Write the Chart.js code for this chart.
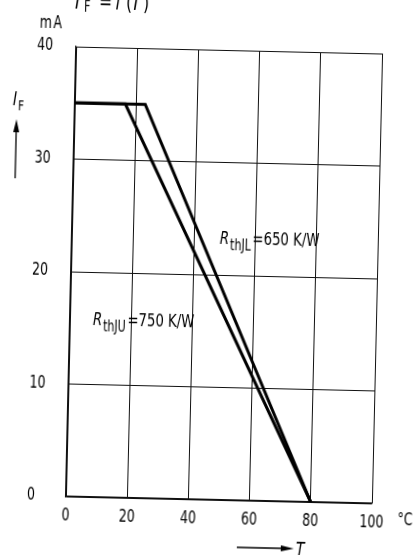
<!DOCTYPE html>
<html lang="de">
<head>
<meta charset="UTF-8">
<title>IF = f(T)</title>
<script src="https://cdn.jsdelivr.net/npm/chart.js@4"></script>
<style>
  html, body { margin: 0; padding: 0; background: #fff; }
  #wrap { position: relative; width: 414px; height: 555px; overflow: hidden; background: #fff; }
  /* the scan is slightly tilted; canvas a bit wider so the unit is not cut off */
  #chart { position: absolute; left: 0; top: 0; transform: rotate(1.3deg); transform-origin: 224px 275px; }
</style>
</head>
<body>
<div id="wrap"><canvas id="chart" width="440" height="560"></canvas></div>
<script>
// Kennlinien I_F = f(T)
const tempJL = [0, 23, 80];
const currentJL = [35, 35, 0];
const tempJU = [0, 16.5, 80];
const currentJU = [35, 35, 0];

const xTicks = [0, 20, 40, 60, 80, 100];
const yTicks = [0, 10, 20, 30, 40];

const labelJL = ['R', 'thJL', '=650 K/W'];
const labelJU = ['R', 'thJU', '=750 K/W'];
// where the labels sit, in data units (left edge, baseline)
const anchorJL = { x: 48.4, y: 22.75 };
const anchorJU = { x: 7.5, y: 15.3 };

const FONT = "'DejaVu Sans Condensed', 'Liberation Sans', sans-serif";
const NARROW = 0.82; // lettering of the original is narrower than any installed font
Chart.defaults.font.family = FONT;
Chart.defaults.font.size = 17;
Chart.defaults.color = '#000';

function toPoints(xs, ys) {
  return xs.map((x, i) => ({ x: x, y: ys[i] }));
}

// squeeze all text drawn on this context horizontally
function narrowText(ctx) {
  const fill = ctx.fillText.bind(ctx);
  ctx.fillText = function (t, x, y, mw) {
    ctx.save();
    ctx.translate(x, y);
    ctx.scale(NARROW, 1);
    if (mw === undefined) fill(t, 0, 0);
    else fill(t, 0, 0, mw / NARROW);
    ctx.restore();
  };
}

// draw text pieces one after another (for subscripts / italics)
function drawRun(ctx, x, y, parts) {
  parts.forEach(p => {
    if (p.x !== undefined) x = p.x;
    ctx.font = (p.italic ? 'italic ' : '') + p.size + 'px ' + FONT;
    ctx.fillText(p.t, x, y + (p.dy || 0));
    x += ctx.measureText(p.t).width * NARROW + (p.gap || 0);
  });
}

function arrow(ctx, x1, y1, x2, y2) {
  const a = Math.atan2(y2 - y1, x2 - x1);
  const len = 13, w = 3;
  ctx.beginPath();
  ctx.moveTo(x1, y1);
  ctx.lineTo(x2 - Math.cos(a) * len, y2 - Math.sin(a) * len);
  ctx.lineWidth = 1.3;
  ctx.stroke();
  ctx.beginPath();
  ctx.moveTo(x2, y2);
  ctx.lineTo(x2 - Math.cos(a) * len - Math.sin(a) * w, y2 - Math.sin(a) * len + Math.cos(a) * w);
  ctx.lineTo(x2 - Math.cos(a) * len + Math.sin(a) * w, y2 - Math.sin(a) * len - Math.cos(a) * w);
  ctx.closePath();
  ctx.fill();
}

const textPlugin = {
  id: 'texts',
  beforeInit(chart) {
    narrowText(chart.ctx);
  },
  afterDraw(chart) {
    const ctx = chart.ctx;
    const xs = chart.scales.x, ys = chart.scales.y;
    ctx.save();
    ctx.fillStyle = '#000';
    ctx.strokeStyle = '#000';
    ctx.textBaseline = 'alphabetic';
    ctx.textAlign = 'left';

    // title
    drawRun(ctx, 69, 12, [
      { t: 'I', size: 22, italic: true },
      { x: 78, t: 'F', size: 15, dy: 3 },
      { x: 93, t: '=', size: 21 },
      { x: 109, t: 'f', size: 22, italic: true },
      { x: 120, t: '(', size: 21 },
      { x: 125, t: 'T', size: 22, italic: true },
      { x: 137, t: ')', size: 21 }
    ]);

    // unit of y axis
    drawRun(ctx, 34, 32, [{ t: 'm', size: 17, gap: 1.5 }, { t: 'A', size: 17 }]);

    // y axis label + arrow
    drawRun(ctx, 9, 110, [{ t: 'I', size: 19, italic: true, gap: 1 }, { t: 'F', size: 14, dy: 5 }]);
    arrow(ctx, 13, 183, 13, 124);

    // x axis unit
    drawRun(ctx, 403, 521, [{ t: '°C', size: 17 }]);

    // x axis label + arrow
    arrow(ctx, 243, 547, 300, 547);
    drawRun(ctx, 302, 554, [{ t: 'T', size: 19, italic: true }]);

    // curve labels
    [[labelJL, anchorJL], [labelJU, anchorJU]].forEach(([lab, an]) => {
      const px = xs.getPixelForValue(an.x);
      const py = ys.getPixelForValue(an.y);
      drawRun(ctx, px, py, [
        { t: lab[0], size: 18, italic: true, gap: 1 },
        { t: lab[1], size: 15, dy: 6, gap: 1.5 },
        { t: lab[2], size: 18 }
      ]);
    });
    ctx.restore();
  }
};

const gridOpts = { color: '#111', lineWidth: 1, drawTicks: false };
const borderOpts = { color: '#111', width: 1.2 };

new Chart(document.getElementById('chart'), {
  type: 'line',
  data: {
    datasets: [
      {
        label: 'RthJL = 650 K/W',
        data: toPoints(tempJL, currentJL),
        borderColor: '#000',
        borderWidth: 3,
        pointRadius: 0,
        tension: 0,
        fill: false
      },
      {
        label: 'RthJU = 750 K/W',
        data: toPoints(tempJU, currentJU),
        borderColor: '#000',
        borderWidth: 3,
        pointRadius: 0,
        tension: 0,
        fill: false
      }
    ]
  },
  options: {
    responsive: false,
    animation: false,
    devicePixelRatio: 1,
    layout: { padding: { left: 32, right: 63, top: 50, bottom: 0 } },
    plugins: {
      legend: { display: false },
      tooltip: { enabled: false }
    },
    scales: {
      x: {
        type: 'linear',
        min: 0,
        max: 100,
        afterBuildTicks: s => { s.ticks = xTicks.map(v => ({ value: v })); },
        afterFit: s => { s.height = 60; },
        grid: gridOpts,
        border: borderOpts,
        ticks: { padding: 9, maxRotation: 0 }
      },
      y: {
        type: 'linear',
        min: 0,
        max: 40,
        afterBuildTicks: s => { s.ticks = yTicks.map(v => ({ value: v })); },
        afterFit: s => { s.width = 39; },
        grid: gridOpts,
        border: borderOpts,
        ticks: { crossAlign: 'far', padding: 6 }
      }
    }
  },
  plugins: [textPlugin]
});
</script>
</body>
</html>
